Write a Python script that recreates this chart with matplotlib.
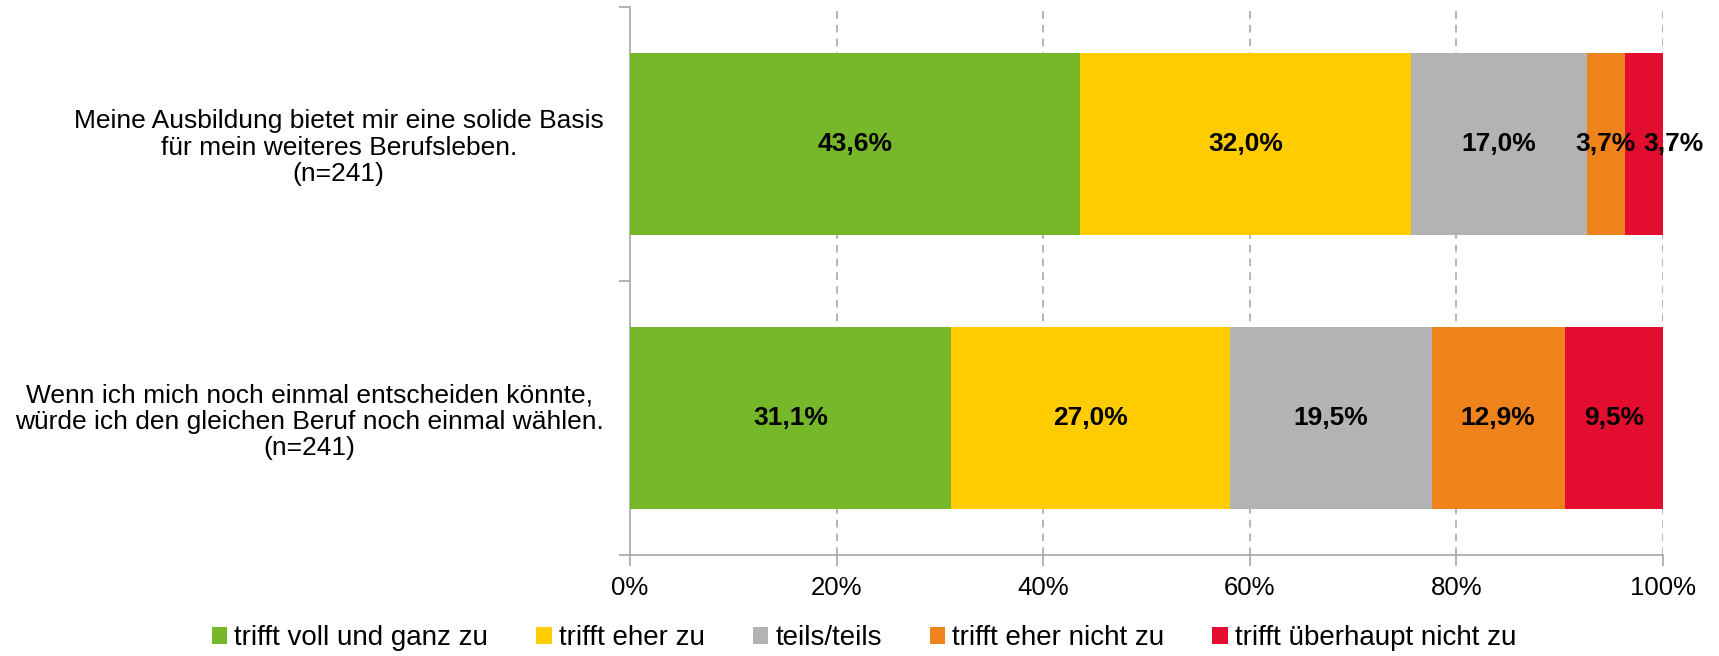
import numpy as np
import matplotlib
matplotlib.use("Agg")
import matplotlib.pyplot as plt
from matplotlib.ticker import FuncFormatter, FixedLocator

plt.rcParams['font.family'] = ['Liberation Sans', 'DejaVu Sans']

# data
statements = [
    "Meine Ausbildung bietet mir eine solide Basis\nfür mein weiteres Berufsleben.\n(n=241)",
    "Wenn ich mich noch einmal entscheiden könnte,\nwürde ich den gleichen Beruf noch einmal wählen.\n(n=241)",
]
answers = ["trifft voll und ganz zu", "trifft eher zu", "teils/teils",
           "trifft eher nicht zu", "trifft überhaupt nicht zu"]
voll = [43.6, 31.1]
eher = [32.0, 27.0]
teils = [17.0, 19.5]
eher_nicht = [3.7, 12.9]
gar_nicht = [3.7, 9.5]
series = [voll, eher, teils, eher_nicht, gar_nicht]
colors = ["#77B82B", "#FFCC00", "#B2B3B5", "#EE821B", "#E30E2F"]

fig = plt.figure(figsize=(17.19, 6.56), dpi=100)
ax = fig.add_axes([630/1719, 101/656, 1033/1719, 548/656])

y = np.arange(len(statements))
left = np.zeros(len(statements))
prev = np.full(len(statements), 100.0)
for vals, col, name in zip(series, colors, answers):
    vals = np.array(vals)
    ax.barh(y, vals, left=left, height=0.667, color=col, label=name,
            linewidth=0, zorder=3)
    for i, (yi, l, v) in enumerate(zip(y, left, vals)):
        # narrow neighbour segments: push the label right so they don't collide
        dx = 21 if (v < 5 and prev[i] < 5) else 0
        ax.annotate(f"{v:.1f}%".replace(".", ","), (l + v/2, yi),
                    xytext=(dx, 0), textcoords='offset points',
                    ha='center', va='center', fontsize=19, fontweight='bold',
                    color='black', zorder=4)
    prev = vals
    left += vals

ax.set_xlim(0, 100)
ax.set_ylim(1.5, -0.5)
ax.set_xticks(np.arange(0, 101, 20))
ax.xaxis.set_major_formatter(FuncFormatter(lambda v, p: f"{int(v)}%"))
ax.tick_params(axis='x', length=8, width=1.2, color='#A6A6A6', pad=7, labelsize=18.5)

ax.set_yticks(y)
ax.set_yticklabels(statements, fontsize=19, linespacing=1.12)
for lbl in ax.get_yticklabels():
    lbl.set_multialignment('center')
ax.tick_params(axis='y', which='major', length=0, pad=19)
ax.yaxis.set_minor_locator(FixedLocator([-0.5, 0.5, 1.5]))
ax.tick_params(axis='y', which='minor', length=8, width=1.2, color='#A6A6A6')

for s in ['top', 'right']:
    ax.spines[s].set_visible(False)
for s in ['left', 'bottom']:
    ax.spines[s].set_color('#A6A6A6')
    ax.spines[s].set_linewidth(1.2)

for gx in [20, 40, 60, 80, 100]:
    ax.axvline(gx, color='#A0A0A0', linestyle=(0, (5, 4)), linewidth=1.1, zorder=1)

fig.legend(loc='center', bbox_to_anchor=(864/1719, 18/656), ncol=5, frameon=False,
           fontsize=20, handlelength=0.56, handleheight=0.56, handletextpad=0.25,
           columnspacing=1.73)

fig.savefig("out.png", dpi=100)
